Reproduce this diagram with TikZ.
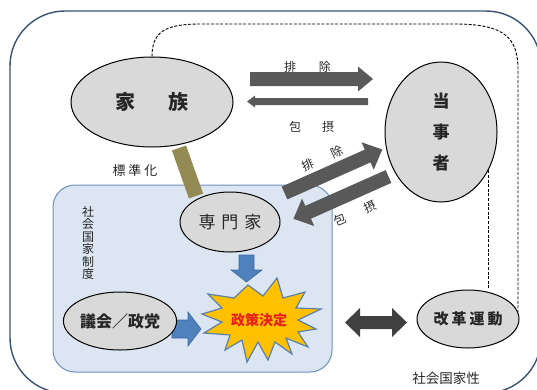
\documentclass[tikz,border=0pt]{standalone}
\usepackage{fontspec}
\setmainfont{Noto Sans CJK JP}
\usetikzlibrary{shapes.geometric}
\definecolor{outerc}{HTML}{3B5170}
\definecolor{boxfill}{HTML}{DCE6F2}
\definecolor{boxline}{HTML}{6F90BC}
\definecolor{ellfill}{HTML}{D9D9D9}
\definecolor{darkarr}{HTML}{595959}
\definecolor{dblarr}{HTML}{404040}
\definecolor{bluearr}{HTML}{4F81BD}
\definecolor{bluearrline}{HTML}{3C6A9E}
\definecolor{olive}{HTML}{948A54}
\definecolor{starfill}{HTML}{FFC000}
\definecolor{starline}{HTML}{5A7FA8}
\definecolor{redtext}{HTML}{E8201A}
\definecolor{txt}{HTML}{262626}
\newcommand\fatarrow[7]{%
  \fill[#1,shift={(#2)},rotate=#3] (0,-#5) -- ({#4-#7},-#5) -- ({#4-#7},-#6) -- (#4,0)
     -- ({#4-#7},#6) -- ({#4-#7},#5) -- (0,#5) -- cycle;}
\begin{document}
\begin{tikzpicture}[x=1pt,y=-1pt,
  ell/.style={ellipse,draw=black,line width=1pt,fill=ellfill,inner sep=0pt,text=txt},
  lbl/.style={text=txt,inner sep=0pt,font=\fontsize{12}{12}\selectfont},
  dashline/.style={draw=black,line width=0.9pt,dash pattern=on 3pt off 1.6pt}]
\useasboundingbox (0,0) rectangle (537,389);
\begin{scope}
\clip (0,0) rectangle (537,389);
\draw[outerc,line width=1.4pt,rounded corners=55pt] (10,11) rectangle (541,393);
\end{scope}
% blue institution box
\draw[boxline,fill=boxfill,line width=1pt,rounded corners=22pt] (53,185) rectangle (332,372);
% olive bar
\draw[olive,line width=15pt] (179,148) -- (196,196);
% top arrows
\fatarrow{darkarr}{250,79}{0}{123}{7}{12.5}{15}
\fatarrow{darkarr}{368,101.5}{180}{121}{3.5}{6}{8}
% diagonal arrows
\fatarrow{darkarr}{284.5,193}{24}{107}{7}{15}{16}
\fatarrow{darkarr}{388.5,176.5}{204}{104}{7}{15}{16}
% blue arrows
\filldraw[fill=bluearr,draw=bluearrline,line width=0.6pt]
  (239,255) -- (254,255) -- (254,270) -- (262,270) -- (246.5,282) -- (231,270) -- (239,270) -- cycle;
\filldraw[fill=bluearr,draw=bluearrline,line width=0.6pt]
  (172,320) -- (188,320) -- (188,312) -- (201,329) -- (188,346) -- (188,338) -- (172,338) -- cycle;
% double arrow
\fill[dblarr] (345,322.5) -- (360,308) -- (360,316) -- (392,316) -- (392,308) -- (407,322.5)
  -- (392,337) -- (392,329) -- (360,329) -- (360,337) -- cycle;
% starburst
\filldraw[fill=starfill,draw=starline,line width=1.2pt,line join=miter]
  (202,314) -- (222,308) -- (208,294) -- (234,298) -- (248,285) -- (263,296) -- (277,278)
  -- (283,298) -- (305,292) -- (296,308) -- (321,309) -- (298,320) -- (316,329) -- (298,332)
  -- (308,347) -- (286,338) -- (292,354) -- (275,342) -- (268,360) -- (258,342) -- (247,362)
  -- (242,340) -- (225,350) -- (230,335) -- (204,333) -- (222,322) -- cycle;
\node[text=redtext,inner sep=0pt,font=\fontsize{14}{14}\selectfont\bfseries] (kettei) at (259,320) {政策決定};
% ellipses
\node[ell,minimum width=162pt,minimum height=90pt,font=\fontsize{20}{20}\selectfont\bfseries] (kazoku) at (152,102) {家\hspace{33pt}族};
\node[ell,minimum width=112pt,minimum height=140pt,align=center,font=\fontsize{17}{31}\selectfont\bfseries] (tojisha) at (441,132) {当\\事\\者};
\node[ell,minimum width=100pt,minimum height=60pt,font=\fontsize{17}{17}\selectfont] (senmonka) at (230,222) {専\hspace{6pt}門\hspace{6pt}家};
\node[ell,minimum width=104pt,minimum height=58pt,font=\fontsize{16}{16}\selectfont\bfseries] (gikai) at (120,321) {議会／政党};
\node[ell,minimum width=102pt,minimum height=58pt,font=\fontsize{15}{15}\selectfont\bfseries] (kaikaku) at (468,319) {改\hspace{3pt}革\hspace{3pt}運\hspace{3pt}動};
% dashed connectors
\coordinate (dtop) at (200,24);
\draw[dashline] (kazoku.north) .. controls (152,32) and (165,24) .. (dtop) -- (455,24)
  .. controls (505,24) and (518,38) .. (518,70) -- (kaikaku.8);
\draw[dashline] (tojisha.-39) -- (tojisha.-39 |- kaikaku.north);
% labels
\node[lbl] (l1) at (307.5,67) {排\hspace{23pt}除};
\node[lbl] (l2) at (311.5,127) {包\hspace{21pt}摂};
\node[lbl,rotate=24] (l3) at (322.5,158.5) {排\hspace{20pt}除};
\node[lbl,rotate=24] (l4) at (355,213.5) {包\hspace{21pt}摂};
\node[lbl,font=\fontsize{13}{13}\selectfont] (l5) at (135,171) {標\hspace{3pt}準\hspace{3pt}化};
\node[lbl,align=center,font=\fontsize{12}{12.5}\selectfont] (l6) at (88,243) {社\\会\\国\\家\\制\\度};
\node[lbl,font=\fontsize{13.5}{13.5}\selectfont] (l7) at (446,378) {社会国家性};
\end{tikzpicture}
\end{document}
